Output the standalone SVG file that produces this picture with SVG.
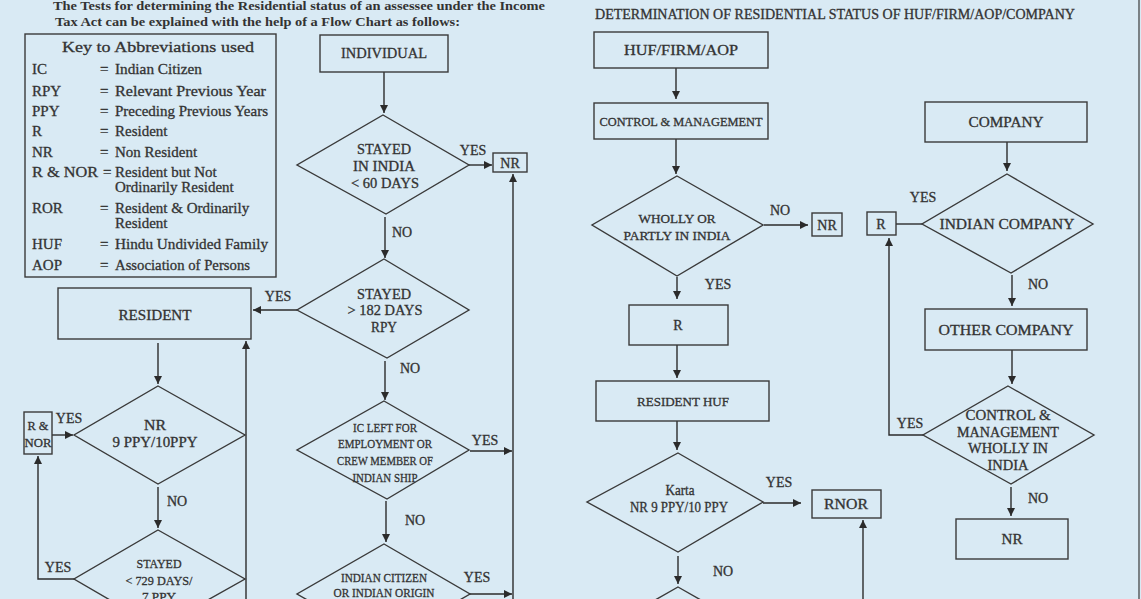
<svg xmlns="http://www.w3.org/2000/svg" width="1141" height="599" viewBox="0 0 1141 599">
<style>
.box{fill:none;stroke:#3a3a3a;stroke-width:1.4}
.ln{fill:none;stroke:#2b2b2b;stroke-width:1.4}
.t{font-family:"Liberation Serif","Times New Roman",serif;font-size:14px;fill:#333;stroke:#333;stroke-width:0.3;text-anchor:middle}
.s{font-size:13px}
.k{font-family:"Liberation Serif","Times New Roman",serif;font-size:15px;fill:#333;stroke:#333;stroke-width:0.3}
.h{font-family:"Liberation Serif","Times New Roman",serif;font-size:13.5px;font-weight:bold;fill:#333}
</style>
<defs>
<marker id="ah" viewBox="0 0 10 10" refX="10" refY="5" markerUnits="userSpaceOnUse" markerWidth="9" markerHeight="8" orient="auto"><path d="M0,0 L10,5 L0,10 z" fill="#2b2b2b"/></marker>
</defs>
<rect width="1141" height="599" fill="#d9eaf4"/>
<line x1="1139" y1="0" x2="1139" y2="599" stroke="#3a3a3a" stroke-width="1.2"/>

<g id="intro">
<text class="h" x="53" y="10" textLength="492" lengthAdjust="spacingAndGlyphs">The Tests for determining the Residential status of an assessee under the Income</text>
<text class="h" x="55" y="26" textLength="405" lengthAdjust="spacingAndGlyphs">Tax Act can be explained with the help of a Flow Chart as follows:</text>
</g>

<g id="key">
<rect class="box" x="25" y="34" width="251" height="243"/>
<text class="k" x="158" y="52" font-size="17.5" text-anchor="middle" textLength="192" lengthAdjust="spacingAndGlyphs">Key to Abbreviations used</text>
<text class="k" x="32" y="74">IC</text><text class="k" x="100" y="74">=</text><text class="k" x="115" y="74" textLength="87" lengthAdjust="spacingAndGlyphs">Indian Citizen</text>
<text class="k" x="32" y="95.5">RPY</text><text class="k" x="100" y="95.5">=</text><text class="k" x="115" y="95.5" textLength="151" lengthAdjust="spacingAndGlyphs">Relevant Previous Year</text>
<text class="k" x="32" y="116">PPY</text><text class="k" x="100" y="116">=</text><text class="k" x="115" y="116" textLength="153" lengthAdjust="spacingAndGlyphs">Preceding Previous Years</text>
<text class="k" x="32" y="136">R</text><text class="k" x="100" y="136">=</text><text class="k" x="115" y="136">Resident</text>
<text class="k" x="32" y="157">NR</text><text class="k" x="100" y="157">=</text><text class="k" x="115" y="157">Non Resident</text>
<text class="k" x="32" y="177" textLength="66" lengthAdjust="spacingAndGlyphs">R &amp; NOR</text><text class="k" x="103" y="177">=</text><text class="k" x="115" y="177" font-size="14.5">Resident but Not</text>
<text class="k" x="115" y="192" font-size="14.5">Ordinarily Resident</text>
<text class="k" x="32" y="213">ROR</text><text class="k" x="100" y="213">=</text><text class="k" x="115" y="213" font-size="14.5">Resident &amp; Ordinarily</text>
<text class="k" x="115" y="228" font-size="14.5">Resident</text>
<text class="k" x="32" y="249">HUF</text><text class="k" x="100" y="249">=</text><text class="k" x="115" y="249" textLength="153" lengthAdjust="spacingAndGlyphs">Hindu Undivided Family</text>
<text class="k" x="32" y="270">AOP</text><text class="k" x="100" y="270">=</text><text class="k" x="115" y="270" textLength="135" lengthAdjust="spacingAndGlyphs">Association of Persons</text>
</g>

<g id="connectors">
<line class="ln" x1="384" y1="72" x2="384" y2="113" marker-end="url(#ah)"/>
<line class="ln" x1="469" y1="165" x2="492" y2="165" marker-end="url(#ah)"/>
<line class="ln" x1="385" y1="217" x2="385" y2="258" marker-end="url(#ah)"/>
<line class="ln" x1="297" y1="310" x2="253" y2="310" marker-end="url(#ah)"/>
<line class="ln" x1="385" y1="361" x2="385" y2="400" marker-end="url(#ah)"/>
<line class="ln" x1="470" y1="451" x2="512" y2="451" marker-end="url(#ah)"/>
<line class="ln" x1="386" y1="501" x2="386" y2="542" marker-end="url(#ah)"/>
<line class="ln" x1="470" y1="594" x2="512" y2="594" marker-end="url(#ah)"/>
<line class="ln" x1="513" y1="599" x2="513" y2="174" marker-end="url(#ah)"/>
<line class="ln" x1="158" y1="343" x2="158" y2="384" marker-end="url(#ah)"/>
<line class="ln" x1="246" y1="599" x2="246" y2="341" marker-end="url(#ah)"/>
<line class="ln" x1="52" y1="435" x2="73" y2="435" marker-end="url(#ah)"/>
<line class="ln" x1="158" y1="487" x2="158" y2="528" marker-end="url(#ah)"/>
<polyline class="ln" points="74,579 38,579 38,456" marker-end="url(#ah)"/>
<line class="ln" x1="676" y1="68" x2="676" y2="99" marker-end="url(#ah)"/>
<line class="ln" x1="676" y1="139" x2="676" y2="174" marker-end="url(#ah)"/>
<line class="ln" x1="764" y1="225" x2="808" y2="225" marker-end="url(#ah)"/>
<line class="ln" x1="677" y1="277" x2="677" y2="299" marker-end="url(#ah)"/>
<line class="ln" x1="677" y1="345" x2="677" y2="378" marker-end="url(#ah)"/>
<line class="ln" x1="677" y1="421" x2="677" y2="450" marker-end="url(#ah)"/>
<line class="ln" x1="763" y1="503" x2="801" y2="503" marker-end="url(#ah)"/>
<line class="ln" x1="678" y1="556" x2="678" y2="584" marker-end="url(#ah)"/>
<line class="ln" x1="863" y1="599" x2="863" y2="520" marker-end="url(#ah)"/>
<line class="ln" x1="1007" y1="142" x2="1007" y2="171" marker-end="url(#ah)"/>
<line class="ln" x1="922" y1="224" x2="896" y2="224"/>
<line class="ln" x1="1012" y1="275" x2="1012" y2="306" marker-end="url(#ah)"/>
<line class="ln" x1="1012" y1="350" x2="1012" y2="384" marker-end="url(#ah)"/>
<polyline class="ln" points="923,435 889,435 889,238" marker-end="url(#ah)"/>
<line class="ln" x1="1011" y1="487" x2="1011" y2="516" marker-end="url(#ah)"/>
</g>

<g id="labels">
<text class="t" x="473" y="155">YES</text>
<text class="t" x="402" y="237">NO</text>
<text class="t" x="278" y="301">YES</text>
<text class="t" x="410" y="373">NO</text>
<text class="t" x="485" y="445">YES</text>
<text class="t" x="415" y="525">NO</text>
<text class="t" x="477" y="582">YES</text>
<text class="t" x="69" y="423">YES</text>
<text class="t" x="177" y="506">NO</text>
<text class="t" x="58" y="572">YES</text>
<text class="t" x="780" y="215">NO</text>
<text class="t" x="718" y="289">YES</text>
<text class="t" x="779" y="487">YES</text>
<text class="t" x="723" y="576">NO</text>
<text class="t" x="923" y="202">YES</text>
<text class="t" x="1038" y="289">NO</text>
<text class="t" x="910" y="428">YES</text>
<text class="t" x="1038" y="503">NO</text>
</g>

<g id="individual">
<rect class="box" x="320" y="35" width="128" height="37"/>
<text class="t" x="384" y="58" textLength="86" lengthAdjust="spacingAndGlyphs">INDIVIDUAL</text>
</g>
<g id="d-lt60">
<polygon class="box" points="383,115 469,165 386,214 297,165"/>
<text class="t" x="384" y="154" textLength="54" lengthAdjust="spacingAndGlyphs">STAYED</text>
<text class="t" x="384" y="171" textLength="62" lengthAdjust="spacingAndGlyphs">IN INDIA</text>
<text class="t" x="385" y="188" textLength="68" lengthAdjust="spacingAndGlyphs">&lt; 60 DAYS</text>
</g>
<g id="nr1">
<rect class="box" x="493" y="153" width="34" height="19"/>
<text class="t" x="510" y="168">NR</text>
</g>
<g id="d-gt182">
<polygon class="box" points="384,259 469,310 387,358 297,310"/>
<text class="t" x="384" y="299" textLength="54" lengthAdjust="spacingAndGlyphs">STAYED</text>
<text class="t" x="385" y="315" textLength="75" lengthAdjust="spacingAndGlyphs">&gt; 182 DAYS</text>
<text class="t" x="384" y="332" textLength="26" lengthAdjust="spacingAndGlyphs">RPY</text>
</g>
<g id="d-icleft">
<polygon class="box" points="384,401 469,450 387,499 297,450"/>
<text class="t s" x="385" y="432" textLength="64" lengthAdjust="spacingAndGlyphs">IC LEFT FOR</text>
<text class="t s" x="385" y="448" textLength="94" lengthAdjust="spacingAndGlyphs">EMPLOYMENT OR</text>
<text class="t s" x="385" y="465" textLength="96" lengthAdjust="spacingAndGlyphs">CREW MEMBER OF</text>
<text class="t s" x="385" y="482" textLength="65" lengthAdjust="spacingAndGlyphs">INDIAN SHIP</text>
</g>
<g id="d-citizen">
<polygon class="box" points="384,544 470,594 384,644 297,594"/>
<text class="t s" x="384" y="582" textLength="86" lengthAdjust="spacingAndGlyphs">INDIAN CITIZEN</text>
<text class="t s" x="384" y="597" textLength="101" lengthAdjust="spacingAndGlyphs">OR INDIAN ORIGIN</text>
</g>
<g id="resident">
<rect class="box" x="58" y="288" width="193" height="51"/>
<text class="t" x="155" y="320" textLength="73" lengthAdjust="spacingAndGlyphs">RESIDENT</text>
</g>
<g id="d-nr9">
<polygon class="box" points="158,386 245,435 158,484 74,435"/>
<text class="t" x="155" y="430" textLength="22" lengthAdjust="spacingAndGlyphs">NR</text>
<text class="t" x="155" y="447" textLength="85" lengthAdjust="spacingAndGlyphs">9 PPY/10PPY</text>
</g>
<g id="rnor-left">
<rect class="box" x="24" y="412" width="28" height="42"/>
<text class="t s" x="38" y="430" textLength="21" lengthAdjust="spacingAndGlyphs">R &amp;</text>
<text class="t s" x="38" y="447" textLength="27" lengthAdjust="spacingAndGlyphs">NOR</text>
</g>
<g id="d-729">
<polygon class="box" points="158,530 245,579 158,628 74,579"/>
<text class="t s" x="159" y="568" textLength="45" lengthAdjust="spacingAndGlyphs">STAYED</text>
<text class="t s" x="159" y="585" textLength="67" lengthAdjust="spacingAndGlyphs">&lt; 729 DAYS/</text>
<text class="t s" x="159" y="601" textLength="34" lengthAdjust="spacingAndGlyphs">7 PPY</text>
</g>

<g id="title-right">
<text class="t" x="835" y="19" font-size="14" textLength="480" lengthAdjust="spacingAndGlyphs">DETERMINATION OF RESIDENTIAL STATUS OF HUF/FIRM/AOP/COMPANY</text>
</g>
<g id="huf">
<rect class="box" x="594" y="32" width="174" height="36"/>
<text class="t" x="681" y="55" textLength="114" lengthAdjust="spacingAndGlyphs">HUF/FIRM/AOP</text>
</g>
<g id="control">
<rect class="box" x="594" y="103" width="174" height="36"/>
<text class="t s" x="681" y="126" textLength="163" lengthAdjust="spacingAndGlyphs">CONTROL &amp; MANAGEMENT</text>
</g>
<g id="d-wholly">
<polygon class="box" points="677,176 763,225 677,276 592,225"/>
<text class="t s" x="677" y="223" textLength="77" lengthAdjust="spacingAndGlyphs">WHOLLY OR</text>
<text class="t s" x="677" y="240" textLength="107" lengthAdjust="spacingAndGlyphs">PARTLY IN INDIA</text>
</g>
<g id="nr2">
<rect class="box" x="812" y="213" width="30" height="23"/>
<text class="t" x="827" y="230">NR</text>
</g>
<g id="r-huf">
<rect class="box" x="629" y="305" width="99" height="40"/>
<text class="t" x="678" y="330">R</text>
</g>
<g id="resident-huf">
<rect class="box" x="596" y="381" width="173" height="40"/>
<text class="t s" x="683" y="406" textLength="92" lengthAdjust="spacingAndGlyphs">RESIDENT HUF</text>
</g>
<g id="d-karta">
<polygon class="box" points="678,453 763,502 678,552 587,502"/>
<text class="t" x="680" y="495" font-size="12.5" textLength="29" lengthAdjust="spacingAndGlyphs">Karta</text>
<text class="t" x="679" y="512" font-size="12.5" textLength="98" lengthAdjust="spacingAndGlyphs">NR 9 PPY/10 PPY</text>
</g>
<g id="rnor">
<rect class="box" x="812" y="490" width="69" height="28"/>
<text class="t" x="846" y="509" textLength="44" lengthAdjust="spacingAndGlyphs">RNOR</text>
</g>
<g id="d-next">
<polygon class="box" points="678,587 766,637 678,687 590,637"/>
</g>

<g id="company">
<rect class="box" x="925" y="102" width="162" height="40"/>
<text class="t" x="1006" y="127" textLength="75" lengthAdjust="spacingAndGlyphs">COMPANY</text>
</g>
<g id="d-indian">
<polygon class="box" points="1007,174 1093,224 1011,273 922,224"/>
<text class="t" x="1007" y="229" textLength="135" lengthAdjust="spacingAndGlyphs">INDIAN COMPANY</text>
</g>
<g id="r-company">
<rect class="box" x="867" y="212" width="29" height="23"/>
<text class="t" x="881" y="229">R</text>
</g>
<g id="other">
<rect class="box" x="925" y="309" width="162" height="41"/>
<text class="t" x="1006" y="335" textLength="135" lengthAdjust="spacingAndGlyphs">OTHER  COMPANY</text>
</g>
<g id="d-control">
<polygon class="box" points="1008,386 1094,435 1011,484 923,435"/>
<text class="t" x="1008" y="420" textLength="85" lengthAdjust="spacingAndGlyphs">CONTROL &amp;</text>
<text class="t" x="1008" y="437" textLength="102" lengthAdjust="spacingAndGlyphs">MANAGEMENT</text>
<text class="t" x="1008" y="453" textLength="80" lengthAdjust="spacingAndGlyphs">WHOLLY IN</text>
<text class="t" x="1008" y="470" textLength="41" lengthAdjust="spacingAndGlyphs">INDIA</text>
</g>
<g id="nr3">
<rect class="box" x="956" y="519" width="112" height="40"/>
<text class="t" x="1012" y="544" textLength="21" lengthAdjust="spacingAndGlyphs">NR</text>
</g>
</svg>
